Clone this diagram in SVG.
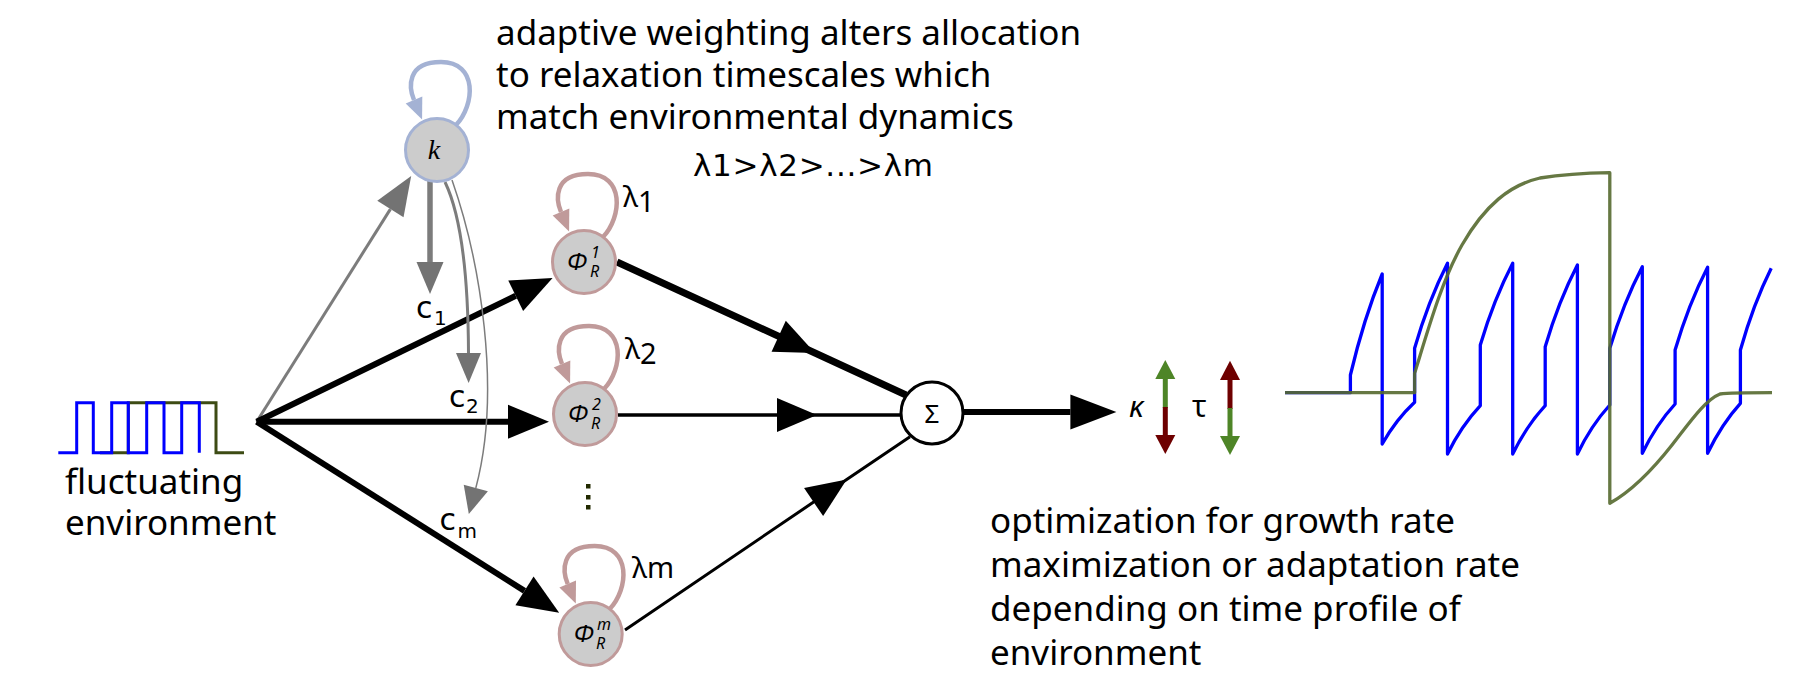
<svg xmlns="http://www.w3.org/2000/svg" width="1795" height="684" viewBox="0 0 1795 684">
<style>
.t{font-family:"Noto Sans","Open Sans","DejaVu Sans",sans-serif;font-size:35px;fill:#000}
.lam{font-family:"Noto Sans","DejaVu Sans",sans-serif;font-size:29px;fill:#000}
.cl{font-family:"DejaVu Sans","Noto Sans",sans-serif;font-size:30px;fill:#000}
.cs{font-family:"DejaVu Sans","Noto Sans",sans-serif;font-size:20px;fill:#000}
.node{fill:#cccccc;stroke-width:3}
.nk{stroke:#a4b2d4}
.np{stroke:#c09a9a}
.loopk{fill:none;stroke:#a4b2d4;stroke-width:4.5}
.loopp{fill:none;stroke:#c09a9a;stroke-width:4.5}
.phi{font-family:"Noto Sans","DejaVu Sans",sans-serif;font-style:italic;fill:#000}
.blk{fill:none;stroke:#000}
.gry{fill:none;stroke:#7c7c7c}
</style>
<defs>
<marker id="hb" markerUnits="userSpaceOnUse" viewBox="0 -18 42 36" refX="0" refY="0" markerWidth="42" markerHeight="36" orient="auto" overflow="visible"><path d="M0,-17 L41,0 L0,17z" fill="#000"/></marker>
<marker id="hm" markerUnits="userSpaceOnUse" viewBox="-41 -18 42 36" refX="0" refY="0" markerWidth="42" markerHeight="36" orient="auto" overflow="visible"><path d="M-40,-17 L0,0 L-40,17z" fill="#000"/></marker>
<marker id="ho" markerUnits="userSpaceOnUse" viewBox="0 -18 47 36" refX="0" refY="0" markerWidth="47" markerHeight="36" orient="auto" overflow="visible"><path d="M0,-17.5 L46,0 L0,17.5z" fill="#000"/></marker>
<marker id="gk" markerUnits="userSpaceOnUse" viewBox="0 -16 40 32" refX="0" refY="0" markerWidth="40" markerHeight="32" orient="auto" overflow="visible"><path d="M0,-15.5 L39,0 L0,15.5z" fill="#737373"/></marker>
<marker id="g1" markerUnits="userSpaceOnUse" viewBox="0 -14 33 28" refX="0" refY="0" markerWidth="33" markerHeight="28" orient="auto" overflow="visible"><path d="M0,-13.5 L32,0 L0,13.5z" fill="#737373"/></marker>
<marker id="g2" markerUnits="userSpaceOnUse" viewBox="0 -13 31 26" refX="0" refY="0" markerWidth="31" markerHeight="26" orient="auto" overflow="visible"><path d="M0,-12.5 L30,0 L0,12.5z" fill="#737373"/></marker>
<marker id="gm" markerUnits="userSpaceOnUse" viewBox="0 -13 28 26" refX="0" refY="0" markerWidth="28" markerHeight="26" orient="auto" overflow="visible"><path d="M0,-12.5 L27,0 L0,12.5z" fill="#737373"/></marker>
<marker id="lp" markerUnits="userSpaceOnUse" viewBox="0 -10 23 20" refX="0" refY="0" markerWidth="23" markerHeight="20" orient="auto" overflow="visible"><path d="M0,-9 L21,0 L0,9z" fill="#c09a9a"/></marker>
<marker id="lb" markerUnits="userSpaceOnUse" viewBox="0 -10 23 20" refX="0" refY="0" markerWidth="23" markerHeight="20" orient="auto" overflow="visible"><path d="M0,-9 L21,0 L0,9z" fill="#a4b2d4"/></marker>
</defs>
<rect width="1795" height="684" fill="#fff"/>

<g id="text-top" class="t">
<text x="496" y="45">adaptive weighting alters allocation</text>
<text x="496" y="87">to relaxation timescales which</text>
<text x="496" y="129">match environmental dynamics</text>
<text x="693" y="176" style="font-family:'DejaVu Sans','Noto Sans',sans-serif;font-size:31px" textLength="240" lengthAdjust="spacing">λ1&gt;λ2&gt;...&gt;λm</text>
</g>
<g id="text-bottom" class="t">
<text x="990" y="533">optimization for growth rate</text>
<text x="990" y="577">maximization or adaptation rate</text>
<text x="990" y="621">depending on time profile of</text>
<text x="990" y="665">environment</text>
</g>

<g id="environment">
<path d="M100,452.7 H128.3 V402.7 H216 V452.7 H244" fill="none" stroke="#3d4b14" stroke-width="3"/>
<path d="M58.3,452.7 H76.7 V402.7 H93.3 V452.7 H111.7 V402.7 H128.3 V452.7 H146.7 V402.7 H164 V452.7 H181.7 V402.7 H199.3 V452.7" fill="none" stroke="#0000ff" stroke-width="3"/>
<text class="t" x="65" y="494">fluctuating</text>
<text class="t" x="65" y="535">environment</text>
</g>

<g id="connectors">
<line class="gry" x1="256.7" y1="421.7" x2="390.4" y2="209.1" stroke-width="3" marker-end="url(#gk)"/>
<line class="blk" x1="256.7" y1="421.7" x2="515.7" y2="295.8" stroke-width="6" marker-end="url(#hb)"/>
<line class="blk" x1="256.7" y1="421.7" x2="508" y2="421.7" stroke-width="6" marker-end="url(#hb)"/>
<line class="blk" x1="256.7" y1="421.7" x2="524.5" y2="590.9" stroke-width="6" marker-end="url(#hb)"/>
<line class="gry" x1="430" y1="180" x2="430" y2="262" stroke-width="5.5" marker-end="url(#g1)"/>
<path class="gry" d="M445,182 Q468,230 468.5,353" stroke-width="3" marker-end="url(#g2)"/>
<path class="gry" d="M452,180 C480,260 502,390 475.8,488" stroke-width="1.5" marker-end="url(#gm)"/>
<polyline class="blk" points="617,262 815,353 906,395" stroke-width="7" marker-mid="url(#hm)"/>
<polyline class="blk" points="618,415 817,415 902,415" stroke-width="3.3" marker-mid="url(#hm)"/>
<polyline class="blk" points="625,630 846.7,479.6 910,436.7" stroke-width="3" marker-mid="url(#hm)"/>
<line class="blk" x1="962" y1="412" x2="1070.4" y2="412" stroke-width="6" marker-end="url(#ho)"/>
</g>

<g id="c-labels">
<text class="cl" x="416" y="318">c</text><text class="cs" x="434" y="325">1</text>
<text class="cl" x="449" y="406.7">c</text><text class="cs" x="466" y="413">2</text>
<text class="cl" x="439.5" y="530">c</text><text class="cs" x="457.5" y="538">m</text>
</g>

<g id="node-k">
<path class="loopk" transform="translate(437,150)" d="M19,-25 C38,-45 41,-88 4,-88 C-31,-88 -28,-62 -23,-50" marker-end="url(#lb)"/>
<circle class="node nk" cx="437" cy="150" r="31.5"/>
<text x="434" y="159" font-family="Liberation Serif, serif" font-style="italic" font-size="28" text-anchor="middle">k</text>
</g>

<g id="node-phi1">
<path class="loopp" transform="translate(584,262)" d="M19,-25 C38,-45 41,-88 4,-88 C-31,-88 -28,-62 -23,-50" marker-end="url(#lp)"/>
<circle class="node np" cx="584" cy="262" r="31.5"/>
<text class="phi" x="567" y="270" font-size="24">Φ</text>
<text class="phi" x="591" y="258" font-size="16">1</text>
<text class="phi" x="590" y="277" font-size="16">R</text>
<text class="lam" x="623" y="206.5">λ<tspan dy="5">1</tspan></text>
</g>

<g id="node-phi2">
<path class="loopp" transform="translate(585,414)" d="M19,-25 C38,-45 41,-88 4,-88 C-31,-88 -28,-62 -23,-50" marker-end="url(#lp)"/>
<circle class="node np" cx="585" cy="414" r="31.5"/>
<text class="phi" x="568" y="422" font-size="24">Φ</text>
<text class="phi" x="592" y="410" font-size="16">2</text>
<text class="phi" x="591" y="429" font-size="16">R</text>
<text class="lam" x="625" y="358.5">λ<tspan dy="5">2</tspan></text>
</g>

<g id="dots">
<rect x="586" y="484" width="4.5" height="4.5" fill="#222a00"/>
<rect x="586" y="495" width="4.5" height="4.5" fill="#222a00"/>
<rect x="586" y="505" width="4.5" height="4.5" fill="#222a00"/>
</g>

<g id="node-phim">
<path class="loopp" transform="translate(590.7,634)" d="M19,-25 C38,-45 41,-88 4,-88 C-31,-88 -28,-62 -23,-50" marker-end="url(#lp)"/>
<circle class="node np" cx="590.7" cy="634" r="31.5"/>
<text class="phi" x="573.7" y="642" font-size="24">Φ</text>
<text class="phi" x="597" y="630" font-size="16">m</text>
<text class="phi" x="596" y="649" font-size="16">R</text>
<text class="lam" x="632" y="578.3">λm</text>
</g>

<g id="node-sum">
<circle cx="932" cy="413" r="31" fill="#fff" stroke="#000" stroke-width="3"/>
<text x="932" y="423" font-family="Noto Sans, DejaVu Sans, sans-serif" font-size="26" text-anchor="middle">Σ</text>
</g>

<g id="output">
<text x="1129" y="417" font-family="Noto Sans, DejaVu Sans, sans-serif" font-style="italic" font-size="30">κ</text>
<line x1="1165.3" y1="378" x2="1165.3" y2="408" stroke="#4e8527" stroke-width="5"/>
<line x1="1165.3" y1="407" x2="1165.3" y2="436" stroke="#6e0000" stroke-width="5"/>
<path d="M1155.3,379 L1165.3,360 L1175.3,379z" fill="#4e8527"/>
<path d="M1155.3,435 L1165.3,454 L1175.3,435z" fill="#6e0000"/>
<text x="1192" y="417" font-family="Noto Sans, DejaVu Sans, sans-serif" font-size="30">τ</text>
<line x1="1230" y1="379" x2="1230" y2="409" stroke="#6e0000" stroke-width="5"/>
<line x1="1230" y1="408" x2="1230" y2="437" stroke="#4e8527" stroke-width="5"/>
<path d="M1220,380 L1230,360.7 L1240,380z" fill="#6e0000"/>
<path d="M1220,436 L1230,455 L1240,436z" fill="#4e8527"/>
</g>

<g id="plot" fill="none" stroke-width="3.3" stroke-linejoin="round">
<path stroke="#0000ff" d="M1285,392.7 L1350.4,392.7 L1350.4,375 Q1363.8,318.4 1382.2,274 L1382.2,444 Q1395.8,419.8 1414.6,402.3 L1414.6,348.3 Q1428.4,300.7 1447.5,263.3 L1447.5,454 Q1461.3,426 1480.3,405.7 L1480.3,345 Q1493.9,299.2 1512.7,263.3 L1512.7,454 Q1526.4,426 1545.2,405.7 L1545.2,346.7 Q1558.7,301 1577.4,265 L1577.4,454 Q1591,425.6 1609.8,405 L1609.8,348.3 Q1623.5,302.6 1642.3,266.7 L1642.3,453.3 Q1656.1,424.7 1675.1,404 L1675.1,350 Q1688.8,303.7 1707.6,267.3 L1707.6,453.3 Q1721.4,424.3 1740.4,403.3 L1740.4,350 Q1753.3,304.2 1771.2,268.3"/>
<path stroke="#55692f" stroke-opacity="0.9" d="M1285,392.7 L1414.6,392.7 L1414.6,373.3 C1428,330 1442,280 1462,245 C1485,205 1510,185 1540,178 C1565,174 1590,173 1609.8,172.7 L1609.8,503.3 C1630,492 1650,473 1672,445 C1690,422 1705,400 1720,394 C1730,392.7 1750,392.7 1772,392.7"/>
</g>
</svg>
